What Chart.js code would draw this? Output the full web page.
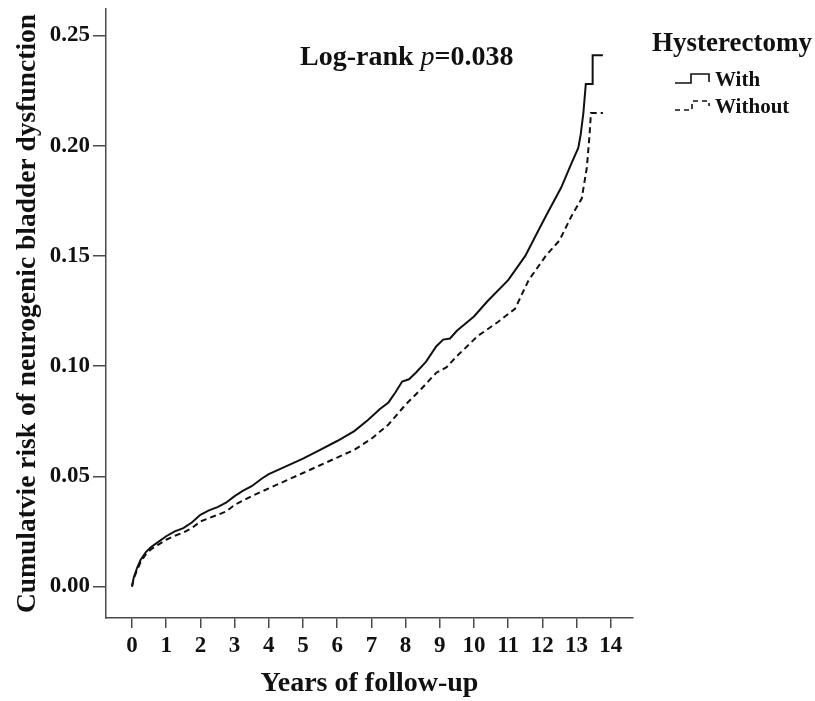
<!DOCTYPE html>
<html>
<head>
<meta charset="utf-8">
<script src="https://cdn.jsdelivr.net/npm/chart.js@4.4.1/dist/chart.umd.min.js"></script>
<style>
  html, body { margin: 0; padding: 0; background: #fff; }
  #wrap { width: 815px; height: 701px; }
</style>
</head>
<body>
<div id="wrap"><canvas id="kmChart" width="815" height="701"></canvas></div>
<script>
// values
const xTicks = [0, 1, 2, 3, 4, 5, 6, 7, 8, 9, 10, 11, 12, 13, 14];
const yTicks = [0, 0.05, 0.1, 0.15, 0.2, 0.25];

const withTime = [0, 0.05, 0.15, 0.25, 0.4, 0.55, 0.75, 1.0, 1.25, 1.5, 1.75, 2.0, 2.25, 2.5, 2.75,
  3.0, 3.25, 3.5, 3.8, 4.0, 4.5, 5.0, 5.5, 6.0, 6.5, 6.9, 7.25, 7.5, 7.7, 7.9, 8.1, 8.3, 8.6, 8.9,
  9.1, 9.3, 9.5, 10.0, 10.4, 11.0, 11.5, 11.8, 12.1, 12.55, 12.85, 13.05, 13.12, 13.2, 13.27,
  13.47, 13.47, 13.77];
const withRisk = [0, 0.004, 0.0085, 0.012, 0.0155, 0.0178, 0.02, 0.0228, 0.025, 0.0265, 0.029,
  0.0325, 0.0345, 0.036, 0.038, 0.041, 0.0435, 0.0455, 0.049, 0.051, 0.0545, 0.058, 0.062, 0.066,
  0.0705, 0.0755, 0.0805, 0.0835, 0.088, 0.093, 0.094, 0.097, 0.102, 0.109, 0.112, 0.1125, 0.116,
  0.1225, 0.1295, 0.139, 0.15, 0.159, 0.168, 0.181, 0.192, 0.199, 0.205, 0.215, 0.228, 0.228,
  0.241, 0.241];

const withoutTime = [0, 0.05, 0.15, 0.25, 0.4, 0.55, 0.75, 1.0, 1.25, 1.5, 1.75, 2.0, 2.25, 2.5,
  2.75, 3.0, 3.5, 4.0, 4.5, 5.0, 5.5, 6.0, 6.5, 7.0, 7.5, 8.0, 8.45, 8.9, 9.2, 9.5, 10.1, 10.7,
  11.2, 11.6, 12.1, 12.5, 12.85, 13.15, 13.3, 13.38, 13.42, 13.77];
const withoutRisk = [0, 0.0035, 0.0075, 0.011, 0.0145, 0.0168, 0.0188, 0.0212, 0.023, 0.0245,
  0.0265, 0.0295, 0.031, 0.0325, 0.034, 0.037, 0.041, 0.0445, 0.048, 0.0515, 0.055, 0.0585, 0.062,
  0.067, 0.0735, 0.0825, 0.0895, 0.097, 0.0995, 0.1045, 0.1135, 0.12, 0.126, 0.139, 0.15, 0.157,
  0.168, 0.176, 0.19, 0.205, 0.2148, 0.2148];

const toPoints = (xs, ys) => xs.map((x, i) => ({ x: x, y: ys[i] }));

const SERIF = "'Liberation Serif', 'Times New Roman', serif";
const INK = "#111111";
const AXIS = "#4a4a4a";

// log-rank text and the step-style legend
const extras = {
  id: "extras",
  afterDraw(chart) {
    const ctx = chart.ctx;
    ctx.save();
    ctx.fillStyle = INK;
    ctx.textBaseline = "middle";
    ctx.textAlign = "left";

    // Log-rank p=0.038
    let x = 300;
    const y = 58;
    ctx.font = "bold 28px " + SERIF;
    ctx.fillText("Log-rank ", x, y);
    x += ctx.measureText("Log-rank ").width;
    ctx.font = "italic 28px " + SERIF;
    ctx.fillText("p", x, y);
    x += ctx.measureText("p").width;
    ctx.font = "bold 28px " + SERIF;
    ctx.fillText("=0.038", x, y);

    // legend
    ctx.font = "bold 27px " + SERIF;
    ctx.fillText("Hysterectomy", 652, 44);
    ctx.font = "bold 21px " + SERIF;
    ctx.fillText("With", 715, 81);
    ctx.fillText("Without", 715, 108);

    ctx.strokeStyle = INK;
    ctx.lineWidth = 1.6;
    ctx.beginPath();
    ctx.moveTo(675, 83); ctx.lineTo(691, 83); ctx.lineTo(691, 74);
    ctx.lineTo(709, 74); ctx.lineTo(709, 82);
    ctx.stroke();

    ctx.setLineDash([5, 4]);
    ctx.beginPath();
    ctx.moveTo(675, 110); ctx.lineTo(692, 110); ctx.lineTo(692, 101);
    ctx.lineTo(709, 101); ctx.lineTo(709, 106);
    ctx.stroke();
    ctx.restore();
  }
};

const ctx = document.getElementById("kmChart").getContext("2d");

new Chart(ctx, {
  type: "scatter",
  data: {
    datasets: [
      {
        label: "With",
        data: toPoints(withTime, withRisk),
        showLine: true,
        borderColor: INK,
        borderWidth: 2,
        pointRadius: 0,
        tension: 0,
      },
      {
        label: "Without",
        data: toPoints(withoutTime, withoutRisk),
        showLine: true,
        borderColor: INK,
        borderWidth: 2,
        borderDash: [6, 4],
        pointRadius: 0,
        tension: 0,
      },
    ],
  },
  options: {
    responsive: false,
    animation: false,
    layout: { padding: { left: 0, right: 182, top: 9, bottom: 0 } },
    plugins: {
      legend: { display: false },
      tooltip: { enabled: false },
    },
    scales: {
      x: {
        type: "linear",
        min: -0.76,
        max: 14.65,
        afterBuildTicks: (s) => { s.ticks = xTicks.map((v) => ({ value: v })); },
        afterFit: (s) => { s.height = 83; },
        border: { display: true, color: AXIS, width: 1.5 },
        grid: { drawOnChartArea: false, drawTicks: true, tickLength: 10, color: AXIS, lineWidth: 1.5 },
        ticks: { color: INK, padding: 4, font: { family: SERIF, size: 23, weight: "bold" } },
        title: {
          display: true,
          text: "Years of follow-up",
          color: INK,
          padding: { top: 0, bottom: 0 },
          font: { family: SERIF, size: 28, weight: "bold" },
        },
      },
      y: {
        type: "linear",
        min: -0.0143,
        max: 0.262,
        afterBuildTicks: (s) => { s.ticks = yTicks.map((v) => ({ value: v })); },
        afterFit: (s) => {
          s.width = 106;
          s.paddingTop = 0;
          s.paddingBottom = 0;
        },
        border: { display: true, color: AXIS, width: 1.5 },
        grid: { drawOnChartArea: false, drawTicks: true, tickLength: 13, color: AXIS, lineWidth: 1.5 },
        ticks: {
          color: INK,
          padding: 3,
          font: { family: SERIF, size: 23, weight: "bold" },
          callback: (v) => v.toFixed(2),
        },
        title: {
          display: true,
          text: "Cumulatvie risk of neurogenic bladder dysfunction",
          color: INK,
          padding: { top: 11, bottom: 0 },
          font: { family: SERIF, size: 27.5, weight: "bold" },
        },
      },
    },
  },
  plugins: [extras],
});
</script>
</body>
</html>
